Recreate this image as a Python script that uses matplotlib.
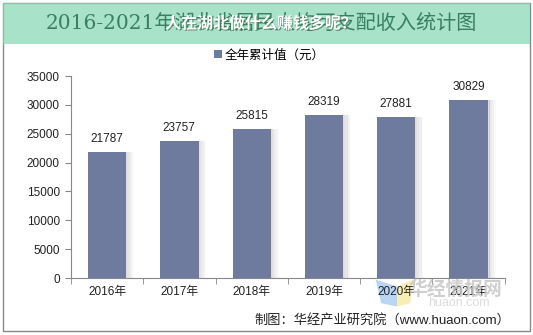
import matplotlib
matplotlib.use("Agg")
import matplotlib.pyplot as plt
from matplotlib.patches import Rectangle, Polygon
import matplotlib.patheffects as pe

plt.rcParams['font.family'] = ['Liberation Sans', 'Noto Sans CJK SC', 'DejaVu Sans']

years = ['2016年', '2017年', '2018年', '2019年', '2020年', '2021年']
values = [21787, 23757, 25815, 28319, 27881, 30829]
y_ticks = [0, 5000, 10000, 15000, 20000, 25000, 30000, 35000]

bar_color = '#6f7a9f'

fig = plt.figure(figsize=(5.33, 3.35), dpi=100)
fig.patch.set_facecolor('white')

# outer frame
fig.add_artist(Rectangle((0.006, 0.012), 0.988, 0.978, transform=fig.transFigure,
                         fill=False, edgecolor='#8a8a8a', linewidth=1.0))

# faint logo behind the axis labels
fig.add_artist(Polygon([(0.705, 0.165), (0.745, 0.145), (0.745, 0.085), (0.715, 0.095)],
                       closed=True, transform=fig.transFigure, facecolor='#9cc4f0',
                       alpha=0.7, edgecolor='none', zorder=0))
fig.add_artist(Polygon([(0.745, 0.145), (0.775, 0.165), (0.77, 0.095), (0.745, 0.085)],
                       closed=True, transform=fig.transFigure, facecolor='#f6eaa0',
                       alpha=0.8, edgecolor='none', zorder=0))

ax = fig.add_axes([0.133, 0.170, 0.814, 0.603])
ax.patch.set_alpha(0)
x = list(range(len(years)))
width = 0.53

# soft shadow on the right side of each bar
for i, v in zip(x, values):
    for k in range(9):
        ax.bar(i + width / 2 + 0.012 * k + 0.006, v, width=0.013, color='#8f8f8f',
               alpha=0.3 * (1 - k / 9), linewidth=0, zorder=2)

ax.bar(x, values, width=width, color=bar_color, zorder=3, label='全年累计值（元）')

for i, v in zip(x, values):
    ax.text(i, v + 1200, f'{v}', ha='center', va='bottom', fontsize=8.5, color='#222222')

ax.set_xlim(-0.5, len(years) - 0.5)
ax.set_ylim(0, 35000)
ax.set_yticks(y_ticks)
ax.set_yticklabels([str(t) for t in y_ticks], fontsize=8.5, color='#222222')
ax.set_xticks(x)
ax.set_xticklabels(years, fontsize=8.5, color='#222222')
ax.set_xticks([i - 0.5 for i in range(len(years) + 1)], minor=True)
ax.tick_params(axis='x', which='major', length=0, pad=6)
ax.tick_params(axis='x', which='minor', length=4, color='#888888', direction='out')
ax.tick_params(axis='y', length=4, color='#888888', pad=4)
for s in ['top', 'right']:
    ax.spines[s].set_visible(False)
ax.spines['left'].set_color('#888888')
ax.spines['bottom'].set_color('#888888')

leg = fig.legend(loc='center', bbox_to_anchor=(0.505, 0.835), frameon=False, fontsize=9,
                 handlelength=0.7, handleheight=0.7, handletextpad=0.2)

# title banner
fig.text(0.49, 0.93, '2016-2021年湖北省居民人均可支配收入统计图', ha='center', va='center',
         fontsize=14.5, color='#3a7f60', family=['DejaVu Serif', 'Noto Sans CJK SC'])
fig.add_artist(Rectangle((0.006, 0.87), 0.988, 0.12, transform=fig.transFigure,
                         facecolor='#86d8b5', alpha=0.72, edgecolor='none'))
fig.text(0.49, 0.93, '人在湖北做什么赚钱多呢？', ha='center', va='center', fontsize=11.5,
         color='white', fontweight='bold', family=['Noto Sans CJK SC'],
         path_effects=[pe.withSimplePatchShadow(offset=(0.7, -0.7), shadow_rgbFace='#3f6f55', alpha=0.7)])

# watermark
fig.text(0.855, 0.135, '华经情报网', ha='center', va='center', fontsize=13.5, color='#c4c4c4',
         alpha=0.8, family=['Noto Sans CJK SC'], fontweight='bold')
fig.text(0.86, 0.095, 'huaon.com', ha='center', va='center', fontsize=9, color='#dcdcdc')

fig.text(0.957, 0.045, '制图：华经产业研究院（www.huaon.com）', ha='right', va='center',
         fontsize=9.5, color='#222222')

fig.savefig('out.png', dpi=100)
